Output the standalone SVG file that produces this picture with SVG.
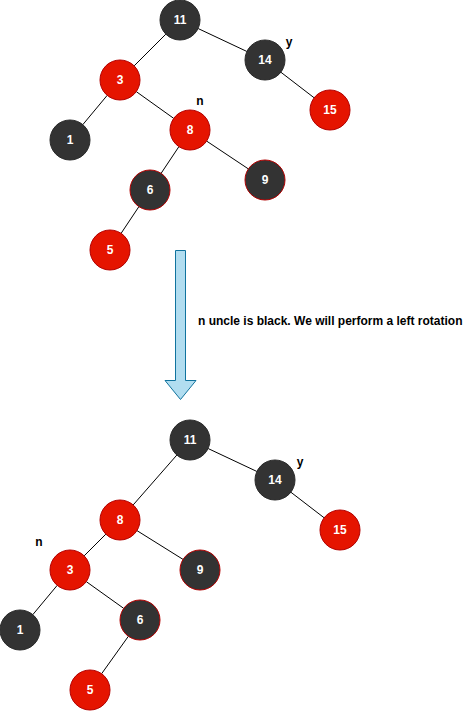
<svg xmlns="http://www.w3.org/2000/svg" width="472" height="712" viewBox="0 0 472 712">
<style>
.b{fill:#333333;stroke:#2a2a2a;stroke-width:1}
.br{fill:#333333;stroke:#b20000;stroke-width:1}
.r{fill:#e51400;stroke:#b20000;stroke-width:1}
.t{font-family:"Liberation Sans",Arial,Helvetica,sans-serif;font-size:12px;font-weight:bold;fill:#ffffff;text-anchor:middle}
.l{font-family:"Liberation Sans",Arial,Helvetica,sans-serif;font-size:12px;font-weight:bold;fill:#000000}
.e{stroke:#000000;stroke-width:1;fill:none}
</style>
<rect width="472" height="712" fill="#ffffff"/>
<g id="connectors">
<line class="e" x1="165.86" y1="34.14" x2="134.14" y2="65.86"/>
<line class="e" x1="198.1" y1="28.52" x2="246.9" y2="51.48"/>
<line class="e" x1="280.85" y1="72.19" x2="314.15" y2="97.81"/>
<line class="e" x1="107.2" y1="95.36" x2="82.8" y2="124.64"/>
<line class="e" x1="136.27" y1="91.62" x2="173.73" y2="118.38"/>
<line class="e" x1="178.91" y1="146.64" x2="161.09" y2="173.36"/>
<line class="e" x1="206.64" y1="141.09" x2="248.36" y2="168.91"/>
<line class="e" x1="138.91" y1="206.64" x2="121.09" y2="233.36"/>
<line class="e" x1="208.1" y1="448.52" x2="256.9" y2="471.48"/>
<line class="e" x1="290.85" y1="492.19" x2="324.15" y2="517.81"/>
<line class="e" x1="176.83" y1="455.05" x2="133.17" y2="504.95"/>
<line class="e" x1="105.86" y1="534.14" x2="84.14" y2="555.86"/>
<line class="e" x1="136.96" y1="530.6" x2="183.04" y2="559.4"/>
<line class="e" x1="57.2" y1="585.36" x2="32.8" y2="614.64"/>
<line class="e" x1="86.27" y1="581.62" x2="123.73" y2="608.38"/>
<line class="e" x1="128.38" y1="636.27" x2="101.62" y2="673.73"/>
</g>
<g id="top-11"><circle class="b" cx="180" cy="20" r="20"/><text class="t" x="180" y="24">11</text></g>
<g id="top-14"><circle class="b" cx="265" cy="60" r="20"/><text class="t" x="265" y="64">14</text></g>
<g id="top-3"><circle class="r" cx="120" cy="80" r="20"/><text class="t" x="120" y="84">3</text></g>
<g id="top-15"><circle class="r" cx="330" cy="110" r="20"/><text class="t" x="330" y="114">15</text></g>
<g id="top-1"><circle class="b" cx="70" cy="140" r="20"/><text class="t" x="70" y="144">1</text></g>
<g id="top-8"><circle class="r" cx="190" cy="130" r="20"/><text class="t" x="190" y="134">8</text></g>
<g id="top-9"><circle class="br" cx="265" cy="180" r="20"/><text class="t" x="265" y="184">9</text></g>
<g id="top-6"><circle class="br" cx="150" cy="190" r="20"/><text class="t" x="150" y="194">6</text></g>
<g id="top-5"><circle class="r" cx="110" cy="250" r="20"/><text class="t" x="110" y="254">5</text></g>
<g id="top-label-y"><text class="l" x="289" y="46" text-anchor="middle">y</text></g>
<g id="top-label-n"><text class="l" x="200" y="105" text-anchor="middle">n</text></g>
<g id="arrow"><path d="M175.5,250.5 H185.5 V380.5 H196 L180.5,399.5 L165,380.5 H175.5 Z" fill="#b1ddf0" stroke="#10739e" stroke-width="1"/></g>
<g id="caption"><text class="l" x="198" y="325">n uncle is black. We will perform a left rotation</text></g>
<g id="bot-11"><circle class="b" cx="190" cy="440" r="20"/><text class="t" x="190" y="444">11</text></g>
<g id="bot-14"><circle class="b" cx="275" cy="480" r="20"/><text class="t" x="275" y="484">14</text></g>
<g id="bot-15"><circle class="r" cx="340" cy="530" r="20"/><text class="t" x="340" y="534">15</text></g>
<g id="bot-8"><circle class="r" cx="120" cy="520" r="20"/><text class="t" x="120" y="524">8</text></g>
<g id="bot-9"><circle class="br" cx="200" cy="570" r="20"/><text class="t" x="200" y="574">9</text></g>
<g id="bot-3"><circle class="r" cx="70" cy="570" r="20"/><text class="t" x="70" y="574">3</text></g>
<g id="bot-1"><circle class="b" cx="20" cy="630" r="20"/><text class="t" x="20" y="634">1</text></g>
<g id="bot-6"><circle class="br" cx="140" cy="620" r="20"/><text class="t" x="140" y="624">6</text></g>
<g id="bot-5"><circle class="r" cx="90" cy="690" r="20"/><text class="t" x="90" y="694">5</text></g>
<g id="bot-label-y"><text class="l" x="300" y="466" text-anchor="middle">y</text></g>
<g id="bot-label-n"><text class="l" x="39" y="546" text-anchor="middle">n</text></g>
</svg>
